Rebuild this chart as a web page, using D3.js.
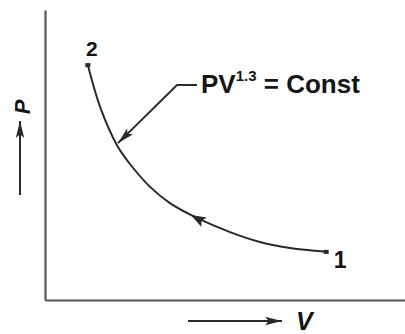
<!DOCTYPE html>
<html>
<head>
<meta charset="utf-8">
<script src="https://cdn.jsdelivr.net/npm/d3@7"></script>
<style>
  body { margin: 0; background: #fff; }
  svg { display: block; }
  text { font-family: "Liberation Sans", Arial, sans-serif; fill: #151515; }
</style>
</head>
<body>
<svg id="chart" width="405" height="334"></svg>
<script>
// P-V diagram, polytropic compression 1 -> 2

// values (arbitrary units, axes 0..10)
const volume   = [1.19, 1.53, 2.00, 2.36, 2.92, 3.47, 4.22, 5.14, 5.97, 6.81, 7.81];
const pressure = [8.10, 6.66, 5.34, 4.69, 3.90, 3.34, 2.83, 2.34, 2.00, 1.79, 1.66];
const stateNames = ["2", "1"];      // first and last point
const xLabel = "V";
const yLabel = "P";
const lawText = ["PV", "1.3", " = Const"];
const calloutIndex = 2;   // point the callout arrow touches
const flowIndex = 6;      // where the direction arrow sits

const svg = d3.select("#chart");
const x = d3.scaleLinear().domain([0, 10]).range([45, 405]);
const y = d3.scaleLinear().domain([0, 10]).range([300, 10]);

const ink = "#2a2a2a";

// arrow marker
const defs = svg.append("defs");
defs.append("marker")
    .attr("id", "head")
    .attr("viewBox", "0 -5 18 10")
    .attr("refX", 18).attr("refY", 0)
    .attr("markerUnits", "userSpaceOnUse")
    .attr("markerWidth", 17).attr("markerHeight", 9.5)
    .attr("orient", "auto")
  .append("path")
    .attr("d", "M0,-4.5L18,0L0,4.5L4,0Z")
    .attr("fill", ink);

// axes (no ticks)
svg.append("g")
    .attr("transform", `translate(0,${y(0)})`)
    .call(d3.axisBottom(x).ticks(0).tickSizeOuter(0))
    .call(g => g.select(".domain").attr("stroke", "#555").attr("stroke-width", 2.2));
svg.append("g")
    .attr("transform", `translate(${x(0)},0)`)
    .call(d3.axisLeft(y).ticks(0).tickSizeOuter(0))
    .call(g => g.select(".domain").attr("stroke", "#555").attr("stroke-width", 2.2));

// process curve
const pts = volume.map((v, i) => [x(v), y(pressure[i])]);
const line = d3.line().curve(d3.curveCatmullRom.alpha(0.5));
svg.append("path")
    .attr("d", line(pts))
    .attr("fill", "none")
    .attr("stroke", ink)
    .attr("stroke-width", 2);

// end marks
[pts[0], pts[pts.length - 1]].forEach(p => {
  svg.append("rect")
      .attr("x", p[0] - 2.5).attr("y", p[1] - 2)
      .attr("width", 5).attr("height", 4)
      .attr("fill", ink);
});

// direction arrow on curve (1 -> 2)
{
  const a = pts[flowIndex], b = pts[flowIndex - 1];
  const ang = Math.atan2(b[1] - a[1], b[0] - a[0]) * 180 / Math.PI;
  svg.append("path")
      .attr("d", "M8,0L-7,-5.5L-4,0L-7,5.5Z")
      .attr("transform", `translate(${a[0] + 1},${a[1] + 1}) rotate(${ang})`)
      .attr("fill", ink);
}

// state labels
svg.append("text")
    .attr("x", pts[0][0] + 4).attr("y", pts[0][1] - 9)
    .attr("text-anchor", "middle")
    .attr("font-size", 21).attr("font-weight", "bold")
    .text(stateNames[0]);
svg.append("text")
    .attr("x", pts[pts.length - 1][0] + 14).attr("y", pts[pts.length - 1][1] + 16)
    .attr("text-anchor", "middle")
    .attr("font-size", 23).attr("font-weight", "bold")
    .text(stateNames[1]);

// callout
const tx = 201, ty = 93;
const law = svg.append("text")
    .attr("x", tx).attr("y", ty)
    .attr("font-size", 26).attr("font-weight", "bold");
law.append("tspan").text(lawText[0]);
law.append("tspan").attr("dy", -12).attr("font-size", 15).text(lawText[1]);
law.append("tspan").attr("dy", 12).text(lawText[2]);

const tip = pts[calloutIndex];
svg.append("path")
    .attr("d", `M${tx - 4},${ty - 8}H${tx - 24}L${tip[0] + 1},${tip[1] - 2}`)
    .attr("fill", "none")
    .attr("stroke", ink)
    .attr("stroke-width", 2)
    .attr("marker-end", "url(#head)");

// axis name arrows
svg.append("line")
    .attr("x1", 188).attr("y1", 321).attr("x2", 282).attr("y2", 321)
    .attr("stroke", ink).attr("stroke-width", 2)
    .attr("marker-end", "url(#head)");
svg.append("text")
    .attr("x", 296).attr("y", 330)
    .attr("font-size", 25).attr("font-weight", "bold").attr("font-style", "italic")
    .text(xLabel);

svg.append("line")
    .attr("x1", 20).attr("y1", 195).attr("x2", 20).attr("y2", 121)
    .attr("stroke", ink).attr("stroke-width", 2)
    .attr("marker-end", "url(#head)");
svg.append("text")
    .attr("transform", "translate(30,107) rotate(-90)")
    .attr("text-anchor", "middle")
    .attr("font-size", 22).attr("font-weight", "bold").attr("font-style", "italic")
    .text(yLabel);
</script>
</body>
</html>
